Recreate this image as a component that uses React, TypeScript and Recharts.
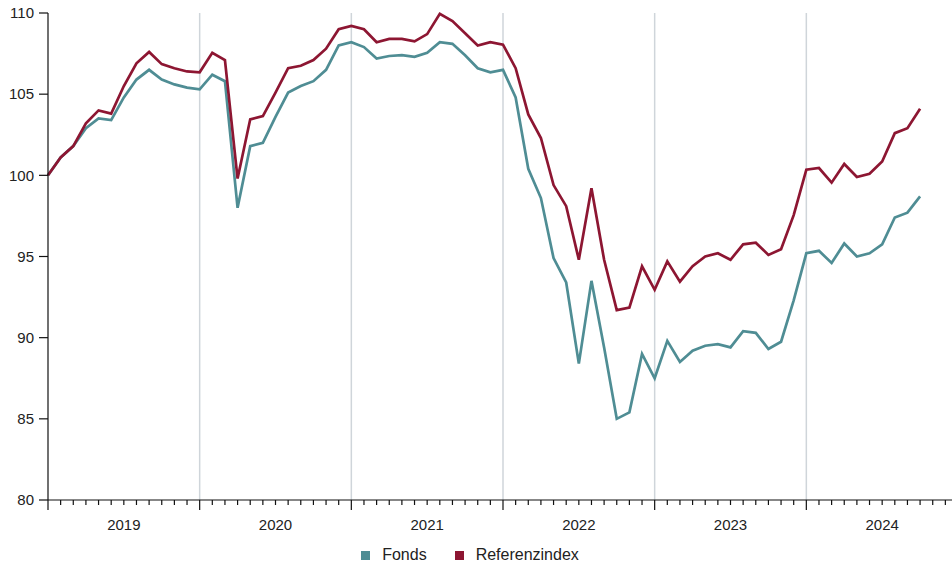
import React from "react";
import {
  LineChart,
  Line,
  XAxis,
  YAxis,
  ReferenceLine,
  Legend,
} from "recharts";

// monthly index values, Jan 2019 = 100
const fonds = [
  100, 101.1, 101.8, 102.9, 103.5, 103.4, 104.8, 105.9, 106.5, 105.9,
  105.6, 105.4, 105.3, 106.2, 105.8, 98.0, 101.8, 102.0, 103.6, 105.1,
  105.5, 105.8, 106.5, 108.0, 108.2, 107.9, 107.2, 107.35, 107.4, 107.3,
  107.55, 108.2, 108.1, 107.4, 106.6, 106.35, 106.5, 104.8, 100.4, 98.6,
  94.9, 93.4, 88.4, 93.5, 89.4, 85.0, 85.4, 89.0, 87.5, 89.8,
  88.5, 89.2, 89.5, 89.6, 89.4, 90.4, 90.3, 89.3, 89.75, 92.3,
  95.2, 95.35, 94.6, 95.8, 95.0, 95.2, 95.75, 97.4, 97.7, 98.7,
];

const referenz = [
  100, 101.1, 101.8, 103.2, 104.0, 103.8, 105.5, 106.9, 107.6, 106.85,
  106.6, 106.4, 106.35, 107.55, 107.1, 99.8, 103.45, 103.65, 105.1, 106.6,
  106.75, 107.1, 107.8, 109.0, 109.2, 109.0, 108.2, 108.4, 108.4, 108.25,
  108.7, 109.95, 109.5, 108.75, 108.0, 108.2, 108.05, 106.6, 103.75, 102.3,
  99.4, 98.1, 94.8, 99.2, 94.8, 91.7, 91.85, 94.4, 92.95, 94.7,
  93.45, 94.4, 95.0, 95.2, 94.8, 95.75, 95.85, 95.1, 95.45, 97.55,
  100.35, 100.45, 99.55, 100.7, 99.9, 100.1, 100.85, 102.6, 102.9, 104.1,
];

const years = ["2019", "2020", "2021", "2022", "2023", "2024"];
const yTicks = [80, 85, 90, 95, 100, 105, 110];

const TEAL = "#4f8d94";
const RED = "#8d1632";
const FONT = "'Liberation Sans', Arial, sans-serif";

const data = fonds.map((f, i) => ({ m: i, fonds: f, referenz: referenz[i] }));
const monthTicks = Array.from({ length: years.length * 12 + 1 }, (_, i) => i);
const yearStarts = years.slice(1).map((_, i) => (i + 1) * 12);

function MonthTick(props: any) {
  const { x, y, payload } = props;
  const v = payload.value as number;
  const major = v % 12 === 0;
  const label = v % 12 === 6 ? years[Math.floor(v / 12)] : null;
  return (
    <g>
      <line x1={x} y1={y} x2={x} y2={y + (major ? 10 : 5)} stroke="#111" strokeWidth={1.2} />
      {label && (
        <text x={x} y={y + 30} textAnchor="middle" fill="#222" fontSize={15} fontFamily={FONT}>
          {label}
        </text>
      )}
    </g>
  );
}

function LegendContent() {
  const items = [
    { name: "Fonds", color: TEAL },
    { name: "Referenzindex", color: RED },
  ];
  return (
    <div style={{ display: "flex", justifyContent: "center", gap: 28, fontFamily: FONT, fontSize: 16, color: "#222", lineHeight: "20px" }}>
      {items.map((it) => (
        <div key={it.name} style={{ display: "flex", alignItems: "center" }}>
          <span style={{ width: 9, height: 9, background: it.color, marginRight: 12, display: "inline-block" }} />
          <span>{it.name}</span>
        </div>
      ))}
    </div>
  );
}

export default function App() {
  return (
    <div style={{ position: "fixed", left: 0, top: 0, width: 952, height: 565, overflow: "hidden", background: "#fff" }}>
      <LineChart width={958} height={565} data={data} margin={{ top: 13, right: 0, bottom: 25, left: 0 }}>
        {yearStarts.map((x) => (
          <ReferenceLine key={x} x={x} stroke="#cfd5da" strokeWidth={1.5} />
        ))}
        <XAxis
          dataKey="m"
          type="number"
          domain={[0, years.length * 12]}
          ticks={monthTicks}
          interval={0}
          height={40}
          tickSize={0}
          tickMargin={0}
          tickLine={false}
          axisLine={{ stroke: "#111", strokeWidth: 1.2 }}
          tick={<MonthTick />}
        />
        <YAxis
          type="number"
          domain={[80, 110]}
          ticks={yTicks}
          width={48}
          tickSize={9}
          tickMargin={5}
          axisLine={{ stroke: "#111", strokeWidth: 1.2 }}
          tickLine={{ stroke: "#111", strokeWidth: 1.2 }}
          tick={{ fill: "#222", fontSize: 15, fontFamily: FONT }}
        />
        <Legend
          verticalAlign="middle"
          align="center"
          layout="horizontal"
          content={<LegendContent />}
          wrapperStyle={{ top: 545, left: -6, width: 952, height: 20 }}
        />
        <Line
          type="linear"
          dataKey="fonds"
          name="Fonds"
          stroke={TEAL}
          strokeWidth={2.7}
          dot={false}
          isAnimationActive={false}
        />
        <Line
          type="linear"
          dataKey="referenz"
          name="Referenzindex"
          stroke={RED}
          strokeWidth={2.7}
          dot={false}
          isAnimationActive={false}
        />
      </LineChart>
    </div>
  );
}
